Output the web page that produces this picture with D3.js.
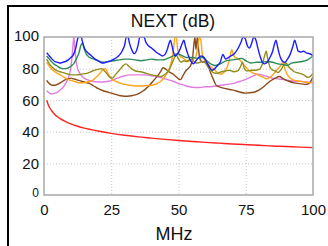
<!DOCTYPE html>
<html><head><meta charset="utf-8">
<script src="https://cdn.jsdelivr.net/npm/d3@7"></script>
<style>html,body{margin:0;padding:0;background:#fff;overflow:hidden}svg{display:block}</style>
</head><body>
<script>
const title = "NEXT (dB)";
const xLabel = "MHz";
const xTicks = [0, 25, 50, 75, 100];
const yTicks = [0, 20, 40, 60, 80, 100];

const redF = [1,1.5,2,3,4,5,6,8,10,12.5,15,20,25,30,35,40,45,50,55,60,65,70,75,80,85,90,95,100];
const redV = [60,57.5,55.5,53,51,49.5,48.3,46.5,45,43.5,42.3,40.5,39,37.8,36.8,36,35.2,34.5,33.9,33.3,32.8,32.3,31.9,31.5,31,30.7,30.3,30];

const violetF = [1,2,3,4,5,6,7,8,9,9.8,10.4,10.8,11.1,11.5,12,12.7,13.5,14.5,16,18,20,22,24,26,28,30,32,34,36,38,40,42,44,46,48,50,52,54,56,58,60,62,64,66,68,70,72,74,76,78,79.5,81,83,85,87,89,91,93,95,97,100];
const violetV = [66,64.5,64,64.5,65,66.5,68,70.5,74,79,87,95,100,92,84,79,76.5,74.5,73,72,71.5,71.5,72,73,74.5,75.5,76,76,76,76,75.5,75,74,73,72,70.5,69.5,68.5,68,68,68.5,68.5,69,69.5,70,70.5,71.5,72.5,74,75.5,76.5,76,75,74,73.5,73,72.5,72,72,71.5,71];

const brownF = [1,2,3,4,5,6,7,8,9,10,11,12,13,14,15,16,17,18,19,20,22,24,26,28,30,31,33,35,36.5,38,39.5,41,42.5,43.5,44.3,45,46,47,48,49,50,50.8,51.5,52.5,53.5,54.5,55.2,55.7,56.1,56.5,57,57.4,58,59,60,61,62,63,64,66,70,75,78,80,82,84,86,87.5,89,91,93,95,97,98.5,99.5,100];
const brownV = [72.5,70.5,69.5,69.5,70,71,72,73,73.5,74,73.5,73,72.5,72,71.5,71,70.5,69.5,68.5,67.5,66,65,64,63,62.5,62.5,63,64,65.5,67.5,70,73,76,78.5,80.5,80,78.5,77.5,76.5,75,73.5,73,75,78,80,82,86,95,100,92,100,93,86,84,84.5,82,77,73,69.5,68,66.5,64.5,65,66.5,69,72,74,75,73.5,72,71,70.5,70,70.5,73,75];

const orangeF = [1,2,3,4,5,6,7,8,9,10,11,12,13,14,15,16,17,18,19,20,21,22,22.8,23.5,24.5,25.5,26.5,28,30,32,34,36,38,40,42,43,44,45,46,47,47.8,48.3,48.7,49.2,49.7,50.5,51.5,52.5,53.5,54.5,55.5,56.5,57.2,57.7,58.3,58.8,59.5,60.5,61.5,62.5,63.5,64.5,65.5,66.5,67.5,68.5,69.2,69.8,70.4,71,72,73,74,75,76,77,78,79,80,81,82,83,84,85,86,87,88,88.8,89.5,90.5,91.5,93,95,97,99,100];
const orangeV = [84,81.5,79.5,78,77,76,75,74,73,72.5,72,71.5,71,71,71,71.5,72,72.5,74,75.5,77.5,79.5,80,78,75,73,72,71,70,69.5,69,69,69.2,69.5,70.5,71.5,73,75,78,82,88,95,100,100,92,88,87,85.5,84.5,85,86,88,94,100,98,90,86,84,82,80.5,79,77.5,76.5,77,79,83,88,92,89,87,86.5,85,83,81,79,78,77,76.5,75.5,75,74,73.5,74.5,76,78,80,82,84,80,76,74,72.5,72,71.5,71,71.5];

const oliveF = [1,2,3,4,5,6,7,8,9,10,12,14,16,18,20,21.5,22.5,23.5,24.5,25.5,26.5,27.5,28.5,29.5,30.5,31.5,32.5,34,36,38,40,42,43.5,45,46.5,47.5,48.5,49.2,50,51,52,53,54,55,56,57,58,59,60,61,62,63,64.5,66,67.5,69,70.5,72,73,73.8,74.5,75.5,77,78.5,80,81,82,82.6,83.2,84,85,86,87,88,89,90,91,92,93,94,95,96,97,98,99,99.5,100];
const oliveV = [86,83,81,79.5,78.5,78,77.5,77,76.5,76,76,76.5,77,78.5,79.5,80,78.5,76.5,74.5,74,76,78,80,82,83,81.5,80,78.5,78,77,76,75.5,75,76.5,79,83,87,88.5,86,84,85,84.5,85.5,86,84,83.5,84,84.5,83.5,81,79,77.5,77,78,78.5,79,78,78.5,81,84,80,78.5,79,79,79.5,82,88,91,86,81,79,78.5,77.5,79,82,83.5,81,79.5,78,77.5,77,76.5,75.5,74.5,75,76,77];

const greenF = [1,2,3,4,5,6,7,8,9,10,11,12,13,13.8,14.3,15,15.8,17,18.5,20,22,24,26,28,30,32,34,36,38,40,42,44,46,48,49.5,51,53,55,57,59,60.5,62,63.5,65,66.5,68,70,72,73.5,75,77,79,81,83,85,87,89,90.5,92,94,96,98,100];
const greenV = [88,86,84,82.5,81.5,80.5,80,80,80.5,81.5,83,86,90,95,96,92,89,87,86,85,84,84.5,85,85.5,86,86,85.5,85,85.5,86,85.5,85.5,86.5,88,89.5,88.5,87,87,86.5,87,85,83,82,82.5,84,85,85.5,86,86.5,85,83.5,84,84,84.5,84,83,82.5,82,83.5,84,84.5,85.5,88];

const blueF = [1,2,3,4,5,6,7,8,9,10,11,11.8,12.4,12.8,13.8,14.3,15,16,17,18,19,20,21,22,23,24,25,26,27,28,29,30,30.6,31.2,31.8,32.6,33.5,34.3,35,35.6,37.2,37.8,38.5,40,41,42,43,44,45,45.8,46.5,47,47.5,48.2,48.8,49.5,50.5,51.4,52,52.6,53.5,54.5,55.5,56.5,57.5,58.5,59.5,60.5,61.5,62.5,63.5,64.5,65.5,66.5,67.5,68.5,69.5,70.5,71.5,72.5,73.3,74,74.8,75.5,76.3,77.2,78,78.8,79.5,80.3,81.2,82,83,84,85,85.6,86.2,86.8,87.5,88.5,89.5,90.5,91.5,92.5,93.2,93.8,94.5,95.5,96.5,97.5,98.5,99.3,100];
const blueV = [90,88,86,84.5,84,83.5,84,84.5,85.5,87,89,93,98,100,100,97,93,90.5,89,87.5,86,85,84,83.5,84,84.5,85,86,87,88.5,91,95,100,100,96,92,89.5,91,95,100,100,97,95,93,91.5,90,89,88,89,92,96,98,95,90,88,89,92,96,98,94,89,85,83,85,87,88,87,84,81,79,80,82,84,89,86,87,88,89,91,94,97,100,99,95,93,96,100,98,93,88,84,83,84,87,91,95,98,94,89,85,84,86,89,94,98,95,91,90.5,91,90,89.5,89,88];

const series = [
  {f: violetF, v: violetV, color: "#e07ce0"},
  {f: brownF, v: brownV, color: "#8b4c1e"},
  {f: orangeF, v: orangeV, color: "#ffa31a"},
  {f: oliveF, v: oliveV, color: "#8e8e1c"},
  {f: greenF, v: greenV, color: "#2e8b57"},
  {f: blueF, v: blueV, color: "#1c1cff"},
  {f: redF, v: redV, color: "#ff2222"}
];

const W = 328, H = 246;
const svg = d3.select("body").append("svg").attr("width", W).attr("height", H);
const x = d3.scaleLinear().domain([0, 100]).range([44, 313]);
const y = d3.scaleLinear().domain([0, 100]).range([195, 37]);

// outer frame
svg.append("line").attr("x1", 8).attr("x2", 8).attr("y1", 5).attr("y2", H).attr("stroke", "#000").attr("stroke-width", 2);
svg.append("line").attr("x1", 7).attr("x2", W).attr("y1", 6).attr("y2", 6).attr("stroke", "#000").attr("stroke-width", 2);

// grid
const grid = svg.append("g").attr("stroke", "#c8c8c8").attr("stroke-width", 1).attr("stroke-dasharray", "1,2");
xTicks.filter(t => t > 0 && t < 100).forEach(t => grid.append("line").attr("x1", x(t) + 0.5).attr("x2", x(t) + 0.5).attr("y1", y(100)).attr("y2", y(0)));
yTicks.filter(t => t > 0 && t < 100).forEach(t => grid.append("line").attr("y1", y(t) + 0.5).attr("y2", y(t) + 0.5).attr("x1", x(0)).attr("x2", x(100)));

svg.append("defs").append("clipPath").attr("id", "clip").append("rect")
  .attr("x", x(0)).attr("y", y(100)).attr("width", x(100) - x(0)).attr("height", y(0) - y(100));

const line = d3.line().x(d => x(d[0])).y(d => y(d[1])).curve(d3.curveMonotoneX);
const lines = svg.append("g").attr("clip-path", "url(#clip)");
series.forEach(s => {
  lines.append("path").attr("d", line(s.f.map((f, i) => [f, s.v[i]])))
    .attr("fill", "none").attr("stroke", s.color).attr("stroke-width", 1.4).attr("stroke-linejoin", "round");
});

// plot border
svg.append("rect").attr("x", x(0)).attr("y", y(100)).attr("width", x(100) - x(0)).attr("height", y(0) - y(100))
  .attr("fill", "none").attr("stroke", "#a8a8a8").attr("stroke-width", 1.5);

// axes (labels only)
const xAxis = d3.axisBottom(x).tickValues(xTicks).tickSize(0).tickPadding(9).tickFormat(d3.format("d"));
const gx = svg.append("g").attr("transform", `translate(0,${y(0)})`).call(xAxis);
gx.select(".domain").remove();
gx.selectAll("text").attr("font-family", "Liberation Sans, Arial, sans-serif").attr("font-size", 15).attr("fill", "#111");

const yAxis = d3.axisLeft(y).tickValues(yTicks).tickSize(0).tickPadding(5).tickFormat(d3.format("d"));
const gy = svg.append("g").attr("transform", `translate(${x(0)},0)`).call(yAxis);
gy.select(".domain").remove();
gy.selectAll("text").attr("font-family", "Liberation Sans, Arial, sans-serif").attr("font-size", 15).attr("fill", "#111");
gy.selectAll(".tick").filter(d => d === 0).select("text").attr("font-size", 12).attr("dy", "0.1em");
gy.selectAll(".tick").filter(d => d === 100).select("text").attr("dy", "0.2em");

svg.append("text").attr("x", 173).attr("y", 27).attr("text-anchor", "middle")
  .attr("font-family", "Liberation Sans, Arial, sans-serif").attr("font-size", 17.5).attr("fill", "#111").text(title);
svg.append("text").attr("x", 174).attr("y", 240).attr("text-anchor", "middle")
  .attr("font-family", "Liberation Sans, Arial, sans-serif").attr("font-size", 18).attr("fill", "#111").text(xLabel);
</script>
</body></html>
